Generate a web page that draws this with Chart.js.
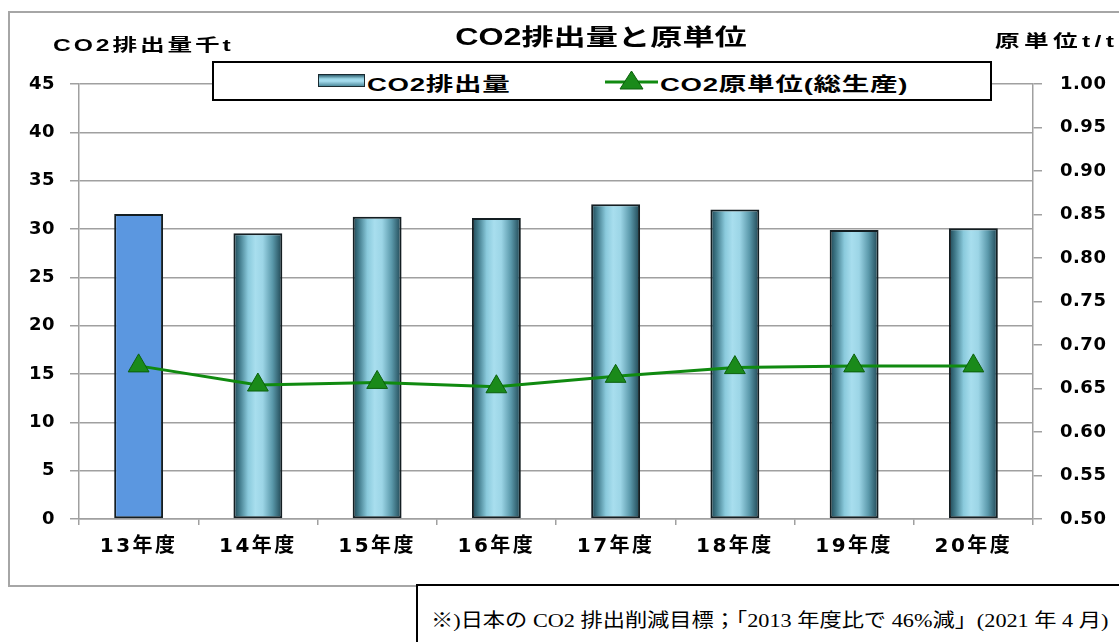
<!DOCTYPE html>
<html lang="ja">
<head>
<meta charset="utf-8">
<script src="https://cdn.jsdelivr.net/npm/chart.js@4"></script>
<style>
  html, body { margin: 0; padding: 0; background: #fff; }
  #wrap { position: relative; width: 1119px; height: 642px; overflow: hidden; background: #fff; }
  #frame { position: absolute; left: 8px; top: 11px; width: 1130px; height: 576px; border: 2px solid #a6a6a6; box-sizing: border-box; }
  #cv { position: absolute; left: 0; top: 0; }
  .lbl { position: absolute; font-family: "Liberation Sans", "Noto Sans CJK JP", sans-serif; font-weight: bold; color: #000; white-space: nowrap; }
  #title { left: 601px; top: 18px; font-size: 23px; transform: translateX(-50%) scaleX(1.4); transform-origin: center; }
  #ytitle { left: 53px; top: 31px; font-size: 17px; letter-spacing: 2px; transform: scaleX(1.45); transform-origin: left; }
  #y1title { left: 995px; top: 27px; font-size: 17px; letter-spacing: 3px; transform: scaleX(1.45); transform-origin: left; }
  #legend { position: absolute; left: 212px; top: 61px; width: 780px; height: 40px; border: 2px solid #000; box-sizing: border-box; background: #fff; }
  .sw-bar { position: absolute; left: 104px; top: 11px; width: 47px; height: 13px; border: 1.5px solid #1a2a30; box-sizing: border-box;
            background: linear-gradient(to bottom, #2f5f6e 0%, #9ad6e6 35%, #a8def0 55%, #4f8c9e 100%); }
  .lg-text { position: absolute; top: 6px; font-family: "Liberation Sans", "Noto Sans CJK JP", sans-serif; font-weight: bold; font-size: 19px; letter-spacing: 0.5px; white-space: nowrap; transform: scaleX(1.45); transform-origin: left; }
  #footer { position: absolute; left: 416px; top: 584px; width: 760px; height: 80px; border: 2px solid #000; box-sizing: border-box; background: #fff; }
  #footer span { position: absolute; left: 13px; top: 19px; font-family: "Liberation Serif", "Noto Sans CJK JP", serif; font-size: 19px; white-space: nowrap; transform: scaleX(1.17); transform-origin: left; }
</style>
</head>
<body>
<div id="wrap">
  <div id="frame"></div>
  <canvas id="cv" width="1119" height="642"></canvas>
  <div class="lbl" id="title">CO2排出量と原単位</div>
  <div class="lbl" id="ytitle">CO2排出量千t</div>
  <div class="lbl" id="y1title">原単位t/t</div>
  <div id="legend">
    <div class="sw-bar"></div>
    <div class="lg-text" style="left:153px;">CO2排出量</div>
    <svg style="position:absolute;left:391px;top:6px;" width="53" height="24" viewBox="0 0 53 24">
      <line x1="0" y1="13" x2="53" y2="13" stroke="#108a10" stroke-width="3"/>
      <polygon points="26.5,2 38,20 15,20" fill="#1a8a1a" stroke="#0b5f0b" stroke-width="1"/>
    </svg>
    <div class="lg-text" style="left:446px;">CO2原単位(総生産)</div>
  </div>
  <div id="footer"><span>※)日本の CO2 排出削減目標；「2013 年度比で 46%減」(2021 年 4 月)</span></div>
</div>
<script>
const categories = ["13年度", "14年度", "15年度", "16年度", "17年度", "18年度", "19年度", "20年度"];
const co2Emissions = [31.55, 29.55, 31.27, 31.14, 32.55, 32.03, 29.9, 30.07];
const co2Intensity = [0.676, 0.654, 0.657, 0.652, 0.664, 0.674, 0.676, 0.676];
const leftTicks = [0, 5, 10, 15, 20, 25, 30, 35, 40, 45];
const rightTicks = [0.50, 0.55, 0.60, 0.65, 0.70, 0.75, 0.80, 0.85, 0.90, 0.95, 1.00];

const BAR_PCT = 0.41;

function barFill(ctx) {
  if (ctx.type !== 'data') return '#8fcfe0';
  if (ctx.dataIndex === 0) return '#5b97e0';
  const chart = ctx.chart;
  const xs = chart.scales && chart.scales.x;
  if (!xs || !isFinite(xs.width) || xs.width <= 0) return '#8fcfe0';
  const cx = xs.getPixelForValue(ctx.dataIndex);
  const w = (xs.width / categories.length) * BAR_PCT;
  const g = chart.ctx.createLinearGradient(cx - w / 2, 0, cx + w / 2, 0);
  g.addColorStop(0.00, '#1d4350');
  g.addColorStop(0.12, '#3f7888');
  g.addColorStop(0.30, '#8acadc');
  g.addColorStop(0.45, '#a8deee');
  g.addColorStop(0.60, '#9cd5e6');
  g.addColorStop(0.80, '#5a98aa');
  g.addColorStop(1.00, '#1d4350');
  return g;
}

// widen axis label lettering to match the reference's stretched text
const letterSpacingPlugin = {
  id: 'labelSpacing',
  afterUpdate(chart) {
    const spacing = { x: '2.5px', y: '0.5px', y1: '0.5px' };
    Object.keys(spacing).forEach((id) => {
      const s = chart.scales[id];
      if (!s || s._lsWrapped) return;
      const orig = s.drawLabels.bind(s);
      s.drawLabels = function (area) {
        const c = this.ctx;
        const prev = c.letterSpacing;
        c.letterSpacing = spacing[id];
        orig(area);
        c.letterSpacing = prev || '0px';
      };
      s._lsWrapped = true;
    });
  }
};

const tickFont = { family: '"DejaVu Sans", "Liberation Sans", sans-serif', size: 18, weight: 'bold' };

new Chart(document.getElementById('cv'), {
  data: {
    labels: categories,
    datasets: [
      {
        type: 'line',
        label: 'CO2原単位(総生産)',
        data: co2Intensity,
        yAxisID: 'y1',
        borderColor: '#108a10',
        borderWidth: 3,
        pointStyle: 'triangle',
        pointRadius: 12,
        pointBackgroundColor: '#1a8a1a',
        pointBorderColor: '#0b5f0b',
        pointBorderWidth: 1,
        tension: 0,
        order: 0
      },
      {
        type: 'bar',
        label: 'CO2排出量',
        data: co2Emissions,
        yAxisID: 'y',
        backgroundColor: barFill,
        borderColor: '#141e22',
        borderWidth: 2,
        borderSkipped: false,
        barPercentage: BAR_PCT,
        categoryPercentage: 1.0,
        order: 1
      }
    ]
  },
  plugins: [letterSpacingPlugin],
  options: {
    responsive: false,
    animation: false,
    layout: { padding: { top: 84, left: 0, right: 0, bottom: 0 } },
    plugins: {
      legend: { display: false },
      title: { display: false },
      tooltip: { enabled: false }
    },
    scales: {
      x: {
        position: 'bottom',
        afterFit: (s) => { s.height = 123; },
        grid: { offset: true, drawOnChartArea: false, drawTicks: true, tickLength: 6, color: '#a0a0a0', lineWidth: 1.5 },
        border: { display: true, color: '#a0a0a0', width: 1.5 },
        ticks: {
          padding: 10,
          color: '#000',
          font: { family: '"DejaVu Sans", "Noto Sans CJK JP", sans-serif', size: 20, weight: 'bold' }
        }
      },
      y: {
        position: 'left',
        min: 0, max: 45,
        afterFit: (s) => { s.width = 79; },
        afterBuildTicks: (s) => { s.ticks = leftTicks.map(v => ({ value: v })); },
        grid: { drawOnChartArea: true, drawTicks: true, tickLength: 9, color: '#a0a0a0', lineWidth: 1.5 },
        border: { display: true, color: '#a0a0a0', width: 1.5 },
        ticks: { padding: 15, color: '#000', font: tickFont, callback: (v) => String(v) }
      },
      y1: {
        position: 'right',
        min: 0.5, max: 1.0,
        afterFit: (s) => { s.width = 86; },
        afterBuildTicks: (s) => { s.ticks = rightTicks.map(v => ({ value: v })); },
        grid: { drawOnChartArea: false, drawTicks: true, tickLength: 9, color: '#a0a0a0', lineWidth: 1.5 },
        border: { display: true, color: '#a0a0a0', width: 1.5 },
        ticks: { padding: 18, color: '#000', font: tickFont, callback: (v) => Number(v).toFixed(2) }
      }
    }
  }
});
</script>
</body>
</html>
